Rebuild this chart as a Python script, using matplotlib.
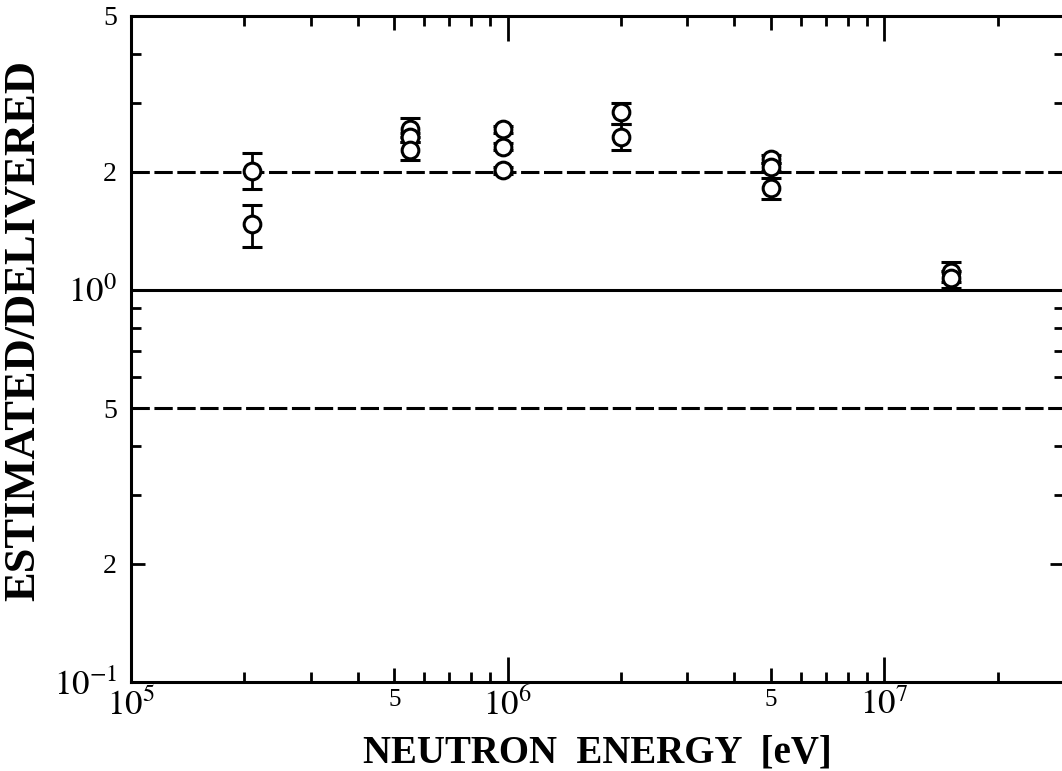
import numpy as np
import matplotlib
matplotlib.use('Agg')
from matplotlib import pyplot as plt
from matplotlib.ticker import FixedLocator, NullFormatter

plt.rcParams['font.family'] = ['Liberation Serif', 'DejaVu Serif']
plt.rcParams['mathtext.fontset'] = 'stix'

# measured points (energy in eV, estimated/delivered ratio)
energy = [2.1e5, 2.1e5,
          5.5e5, 5.5e5, 5.5e5,
          9.7e5, 9.7e5, 9.7e5,
          2.0e6, 2.0e6,
          5.0e6, 5.0e6, 5.0e6,
          1.5e7, 1.5e7]
ratio = [2.01, 1.47,
         2.57, 2.45, 2.27,
         2.57, 2.32, 2.02,
         2.85, 2.46,
         2.16, 2.06, 1.82,
         1.11, 1.07]
err_low = [1.81, 1.29,
           2.45, 2.38, 2.15,
           2.52, 2.27, 1.98,
           2.65, 2.28,
           2.11, 2.01, 1.71,
           1.05, 1.01]
err_high = [2.24, 1.65,
            2.75, 2.52, 2.38,
            2.62, 2.37, 2.06,
            3.0, 2.65,
            2.21, 2.11, 1.93,
            1.18, 1.12]

ylab_pos = [0.1, 0.2, 0.5, 1.0, 2.0, 5.0]
ylab_txt = ['$10^{-1}$', '2', '5', '$10^0$', '2', '5']
xlab_pos = [1e5, 5e5, 1e6, 5e6, 1e7]
xlab_txt = ['$10^5$', '5', '$10^6$', '5', '$10^7$']

ratio = np.array(ratio)
yerr = [ratio - np.array(err_low), np.array(err_high) - ratio]

fig = plt.figure(figsize=(10.62, 7.71), dpi=100)
ax = fig.add_axes([131/1062, 1 - 682/771, (1064 - 131)/1062, (682 - 16)/771])
ax.set_xscale('log')
ax.set_yscale('log')
ax.set_xlim(1e5, 3e7)
ax.set_ylim(0.1, 5)

ax.axhline(1.0, color='k', lw=2.2, zorder=1)
ax.axhline(2.0, color='k', lw=2.2, ls=(0, (6, 1.5)), zorder=1)
ax.axhline(0.5, color='k', lw=2.2, ls=(0, (6, 1.5)), zorder=1)

ax.errorbar(energy, ratio, yerr=yerr, fmt='o', ms=12, mfc='white', mec='k',
            mew=2.2, ecolor='k', elinewidth=2.0, capsize=7, capthick=2.4,
            zorder=3)

for s in ax.spines.values():
    s.set_linewidth(2.2)

# y ticks
ax.yaxis.set_major_locator(FixedLocator(ylab_pos))
ax.set_yticklabels(ylab_txt)
ax.yaxis.set_minor_locator(FixedLocator([0.3, 0.4, 0.6, 0.7, 0.8, 0.9, 3, 4]))
ax.yaxis.set_minor_formatter(NullFormatter())

# x ticks
ax.xaxis.set_major_locator(FixedLocator(xlab_pos))
ax.set_xticklabels(xlab_txt)
xminor = [m * 10**d for d in (5, 6, 7) for m in (2, 3, 4, 6, 7, 8, 9)]
ax.xaxis.set_minor_locator(FixedLocator(xminor))
ax.xaxis.set_minor_formatter(NullFormatter())

ax.tick_params(which='both', direction='in', top=True, right=True, width=2.0)
ax.tick_params(which='major', length=10)
ax.tick_params(which='minor', length=7)
ax.tick_params(axis='x', which='major', labelsize=18, pad=5)
ax.tick_params(axis='y', which='major', labelsize=20, pad=10)

# decade ticks are longer and carry bigger labels
for t, v in zip(ax.xaxis.get_major_ticks(), xlab_pos):
    if v in (1e5, 1e6, 1e7):
        t.tick1line.set_markersize(18)
        t.tick2line.set_markersize(18)
        t.label1.set_fontsize(25)
for t, v in zip(ax.yaxis.get_major_ticks(), ylab_pos):
    if v in (0.1, 1.0):
        t.label1.set_fontsize(25)

ax.set_xlabel('NEUTRON  ENERGY  [eV]', fontsize=28, fontweight='bold', labelpad=8)
ax.set_ylabel('ESTIMATED/DELIVERED', fontsize=32, fontweight='bold')
ax.yaxis.set_label_coords(-0.094, 0.528)

fig.savefig('out.png', dpi=100)
